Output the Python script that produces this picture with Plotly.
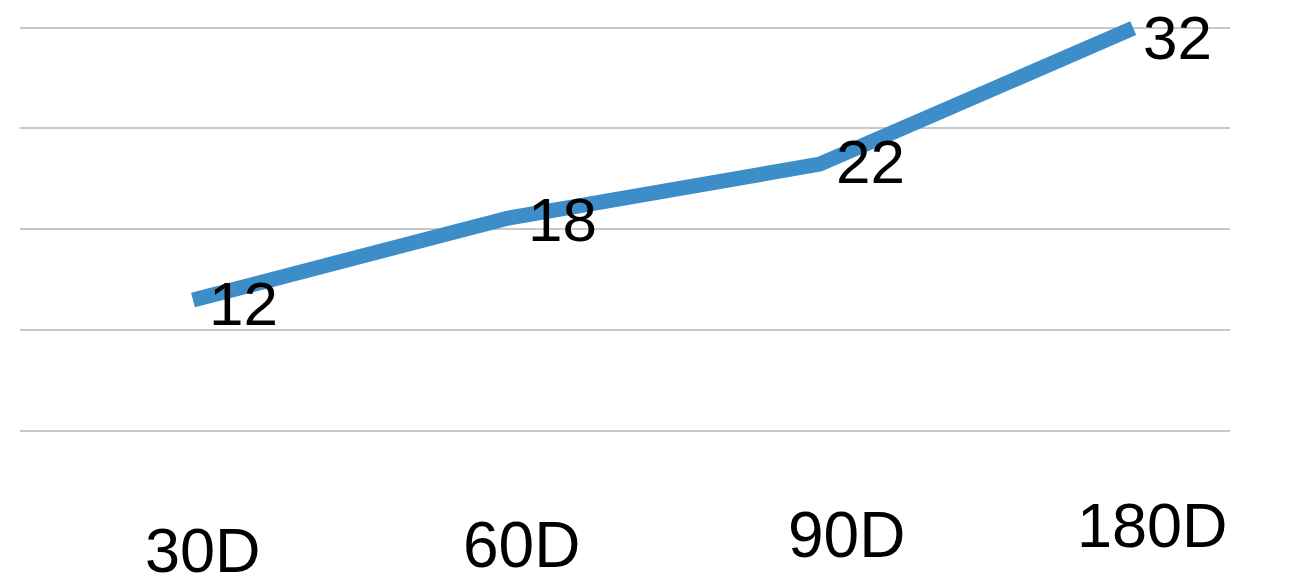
import plotly.graph_objects as go

# ---- data ----
categories = ["30D", "60D", "90D", "180D"]
values = [12, 18, 22, 32]
grid_values = [0, 10, 20, 30, 40]

# ---- layout helpers (pixel geometry of the figure) ----
W, H = 1291, 587
plot_top, plot_bottom = 20, 470
plot_left, plot_right = 20, 1230


def px_to_paper(py):
    return (plot_bottom - py) / (plot_bottom - plot_top)


fig = go.Figure()

# invisible anchor trace so the back-wall value axis (with gridlines) is drawn
fig.add_trace(go.Scatter(
    x=[categories[0], categories[-1]], y=[grid_values[0], grid_values[-1]],
    mode="markers", marker=dict(size=1, opacity=0), hoverinfo="skip",
    showlegend=False, yaxis="y",
))

# line on the "front" axis (perspective: front plane larger than back wall)
fig.add_trace(go.Scatter(
    x=categories, y=values, mode="lines",
    line=dict(color="#3D8DC8", width=15),
    yaxis="y2", hoverinfo="x+y", showlegend=False,
))

# data labels
label_shift_x = [14, 20, 14, 8]
label_shift_y = [-3, -1, 3, -9]
for c, v, sx, sy in zip(categories, values, label_shift_x, label_shift_y):
    fig.add_annotation(
        x=c, y=v, xref="x", yref="y2", text=str(v), showarrow=False,
        xanchor="left", yanchor="middle", xshift=sx, yshift=sy,
        font=dict(family="Liberation Sans, Arial, sans-serif", size=62, color="#000000"),
    )

# category labels (slanted baseline from the 3D perspective)
label_y_px = [550, 545, 535, 525]
label_dx = [10, 15, 27, 19]
label_size = [63, 64, 64, 63]
for c, ly, dx, fs in zip(categories, label_y_px, label_dx, label_size):
    fig.add_annotation(
        x=c, y=px_to_paper(ly), xref="x", yref="paper", text=c, showarrow=False,
        xanchor="center", yanchor="middle", xshift=dx,
        font=dict(family="Liberation Sans, Arial, sans-serif", size=fs, color="#000000"),
    )

# axis ranges chosen so the geometry matches the reference
grid_px0, grid_px40 = 430.5, 27.5
g_scale = (grid_px0 - grid_px40) / 40.0
y_lo = -(plot_bottom - grid_px0) / g_scale
y_hi = 40 + (grid_px40 - plot_top) / g_scale

line_px0, line_scale = 463.1, 13.59
y2_lo = (line_px0 - plot_bottom) / line_scale
y2_hi = (line_px0 - plot_top) / line_scale

cat_px0, cat_step = 193, 313.4
x_lo = -(cat_px0 - plot_left) / cat_step
x_hi = x_lo + (plot_right - plot_left) / cat_step

fig.update_layout(
    width=W, height=H,
    margin=dict(l=plot_left, r=W - plot_right, t=plot_top, b=H - plot_bottom, pad=0),
    paper_bgcolor="white", plot_bgcolor="white",
    showlegend=False,
    xaxis=dict(type="category", categoryorder="array", categoryarray=categories,
               range=[x_lo, x_hi], showgrid=False, showticklabels=False,
               zeroline=False, showline=False, ticks=""),
    yaxis=dict(range=[y_lo, y_hi], tickvals=grid_values, showticklabels=False,
               showgrid=True, gridcolor="#C9C9C9", gridwidth=2, zeroline=False,
               showline=False, ticks=""),
    yaxis2=dict(range=[y2_lo, y2_hi], overlaying="y", side="right", showgrid=False,
                showticklabels=False, zeroline=False, showline=False, ticks=""),
)

fig.write_html("out.html")
